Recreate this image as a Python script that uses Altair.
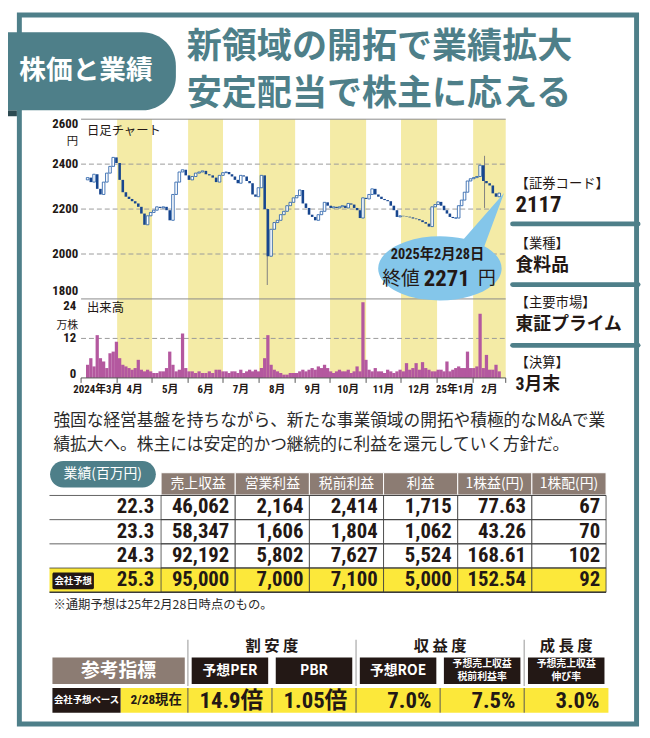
import altair as alt
import pandas as pd

# ====================== chart values ======================
month_labels = ["2024年3月", "4月", "5月", "6月", "7月", "8月", "9月", "10月",
                "11月", "12月", "25年1月", "2月"]
first_open = 2330
close_mar = [2340, 2320, 2355, 2290, 2265, 2320, 2360, 2390, 2430, 2405, 2330]
close_apr = [2275, 2255, 2245, 2235, 2225, 2210, 2180, 2130, 2170, 2185, 2195]
close_may = [2210, 2205, 2210, 2195, 2150, 2265, 2320, 2365, 2375, 2350, 2330]
close_jun = [2345, 2360, 2365, 2370, 2355, 2350, 2340, 2320, 2350, 2362]
close_jul = [2365, 2355, 2345, 2330, 2315, 2350, 2345, 2325, 2315, 2265, 2255, 2295]
close_aug = [2350, 2200, 1990, 2110, 2140, 2150, 2175, 2190, 2215, 2230, 2250]
close_sep = [2260, 2285, 2225, 2205, 2175, 2165, 2150, 2175, 2190, 2230, 2215]
close_oct = [2205, 2210, 2205, 2210, 2215, 2205, 2225, 2220, 2205, 2195, 2160, 2250]
close_nov = [2245, 2265, 2290, 2265, 2255, 2245, 2240, 2235, 2215, 2195, 2165]
close_dec = [2170, 2168, 2166, 2163, 2158, 2155, 2150, 2142, 2135, 2122, 2210]
close_jan = [2220, 2232, 2215, 2195, 2180, 2165, 2160, 2160, 2215, 2240, 2275, 2325]
close_feb = [2335, 2340, 2345, 2395, 2325, 2315, 2305, 2270, 2255, 2271]

vol_mar = [4, 6, 3.5, 13, 6, 5, 3, 7.5, 8, 11, 6]
vol_apr = [4, 3.5, 3, 2.5, 3, 5.5, 2.5, 2, 2.5, 2, 1.5]
vol_may = [1.5, 2, 2, 3, 8, 4, 2, 2.5, 13.5, 3, 2]
vol_jun = [2, 1.5, 2, 1.5, 1.5, 2, 1.5, 2.5, 2.5, 2]
vol_jul = [2, 1.5, 2, 2, 1.5, 2.5, 1.5, 2, 2.5, 2, 2.5, 2]
vol_aug = [3, 6, 13, 4, 2.5, 2, 1.5, 1, 1, 1.5, 1.5]
vol_sep = [1.5, 2, 2.5, 2, 2.5, 3, 2.5, 3.5, 3, 4, 3]
vol_oct = [2, 1.5, 2, 2.5, 2, 2, 2.5, 1.5, 2, 3.5, 2, 23]
vol_nov = [5.5, 2.5, 2, 3, 2, 2, 1.5, 2.5, 2, 1.5, 2]
vol_dec = [2.5, 2, 4.5, 2.5, 3, 4.5, 2.5, 4.8, 3, 2.5, 2]
vol_jan = [2, 2.5, 2.5, 2, 5, 2, 2.5, 3, 3.5, 3, 3, 8]
vol_feb = [3, 3, 3.5, 19.5, 3, 7, 2.5, 2.5, 4, 2]

wick_month = [5, 11]
wick_index = [2, 3]
wick_low = [1862, 2205]
wick_high = [2200, 2437]

price_ticks = [2600, 2400, 2200, 2000, 1800]
volume_ticks = [24, 12, 0]
close_date_label = "2025年2月28日"

section_tag = "株価と業績"
headline = ["新領域の開拓で業績拡大", "安定配当で株主に応える"]
info_labels = ["【証券コード】", "【業種】", "【主要市場】", "【決算】"]
info_values = ["2117", "食料品", "東証プライム", "3月末"]
summary = ["強固な経営基盤を持ちながら、新たな事業領域の開拓や積極的なM&Aで業",
           "績拡大へ。株主には安定的かつ継続的に利益を還元していく方針だ。"]

fiscal_years = ["22.3", "23.3", "24.3", "25.3"]
perf_columns = ["売上収益", "営業利益", "税前利益", "利益", "1株益(円)", "1株配(円)"]
revenue = [46062, 58347, 92192, 95000]
operating_profit = [2164, 1606, 5802, 7000]
pretax_profit = [2414, 1804, 7627, 7100]
net_profit = [1715, 1062, 5524, 5000]
eps = [77.63, 43.26, 168.61, 152.54]
dividend = [67, 70, 102, 92]
footnote = "※通期予想は25年2月28日時点のもの。"

indicator_groups = ["割 安 度", "収 益 度", "成 長 度"]
indicator_names = ["予想PER", "PBR", "予想ROE", "予想売上収益\n税前利益率", "予想売上収益\n伸び率"]
indicator_values = [14.9, 1.05, 7.0, 7.5, 3.0]
indicator_units = ["倍", "倍", "%", "%", "%"]
indicator_decimals = [1, 2, 1, 1, 1]

# ====================== styles ======================
TEAL = "#4e7f89"
TEAL_DARK = "#2c4a51"
BAND = "#f4eba6"
BLUE = "#1c57a5"
BLUE_DARK = "#17468f"
VOL = "#b4589f"
CALL = "#84c6ea"
BROWN = "#8c7c73"
YEL = "#fce83a"
INK = "#231815"
GRID = "#9a9a9a"
JP = "Noto Sans CJK JP"
NARROW = "Liberation Sans Narrow, Roboto Condensed, DejaVu Sans Condensed, Noto Sans CJK JP, sans-serif"

ONE = pd.DataFrame({"k": [0]})


def px(v):
    return v - 8


def rect(x1, y1, x2, y2, **kw):
    return alt.Chart(ONE).mark_rect(**kw).encode(
        x=alt.value(px(x1)), x2=alt.value(px(x2)), y=alt.value(px(y1)), y2=alt.value(px(y2)))


def hline(x1, x2, y, **kw):
    return alt.Chart(ONE).mark_rule(**kw).encode(
        x=alt.value(px(x1)), x2=alt.value(px(x2)), y=alt.value(px(y)))


def vline(x, y1, y2, **kw):
    return alt.Chart(ONE).mark_rule(**kw).encode(
        x=alt.value(px(x)), y=alt.value(px(y1)), y2=alt.value(px(y2)))


def label(txt, x, y, size, color=INK, font=JP, weight="normal", align="left", baseline="middle", **kw):
    return alt.Chart(ONE).mark_text(text=txt, fontSize=size, color=color, font=font,
                                    fontWeight=weight, align=align, baseline=baseline, **kw).encode(
        x=alt.value(px(x)), y=alt.value(px(y)))


# ====================== stock data frame ======================
closes = [close_mar, close_apr, close_may, close_jun, close_jul, close_aug,
          close_sep, close_oct, close_nov, close_dec, close_jan, close_feb]
vols = [vol_mar, vol_apr, vol_may, vol_jun, vol_jul, vol_aug,
        vol_sep, vol_oct, vol_nov, vol_dec, vol_jan, vol_feb]
starts = pd.date_range("2024-03-01", periods=13, freq="MS")
start_day = [(d - starts[0]).days for d in starts]
recs = []
prev = first_open
for m in range(12):
    a, b = start_day[m], start_day[m + 1]
    n = len(closes[m])
    for i in range(n):
        c = closes[m][i]
        recs.append({"m": m, "i": i, "day": a + (i + 0.5) * (b - a) / n,
                     "open": prev, "close": c, "vol": vols[m][i], "up": bool(c >= prev)})
        prev = c
cdf = pd.DataFrame(recs)
wdf = pd.DataFrame({"m": wick_month, "i": wick_index, "low": wick_low, "high": wick_high}).merge(
    cdf[["m", "i", "day"]], on=["m", "i"])
mdf = pd.DataFrame({"label": month_labels,
                    "start": start_day[:12], "end": start_day[1:],
                    "mid": [(start_day[k] + start_day[k + 1]) / 2 for k in range(12)]})
band_df = mdf.iloc[1::2]
bound_df = pd.DataFrame({"b": start_day})
last_df = cdf.tail(1)

xs = alt.Scale(domain=[0, 365], range=[px(82), px(512)], nice=False, zero=False)
ps = alt.Scale(domain=[1800, 2600], range=[px(298), px(116)], nice=False, zero=False)
vs = alt.Scale(domain=[0, 24], range=[px(378), px(298)], nice=False, zero=True)
XD = alt.X("day:Q", scale=xs, axis=None)

L = []
# month bands
L.append(alt.Chart(band_df).mark_rect(color=BAND).encode(
    x=alt.X("start:Q", scale=xs, axis=None), x2="end:Q",
    y=alt.value(px(116)), y2=alt.value(px(378))))
# grid lines
L.append(alt.Chart(pd.DataFrame({"p": price_ticks[1:-1]})).mark_rule(color=GRID, strokeDash=[5, 3], strokeWidth=1).encode(
    y=alt.Y("p:Q", scale=ps, axis=None), x=alt.value(px(82)), x2=alt.value(px(512))))
L.append(alt.Chart(pd.DataFrame({"v": [volume_ticks[1]]})).mark_rule(color=GRID, strokeDash=[5, 3], strokeWidth=1).encode(
    y=alt.Y("v:Q", scale=vs, axis=None), x=alt.value(px(82)), x2=alt.value(px(512))))
L.append(alt.Chart(pd.DataFrame({"p": [price_ticks[0], price_ticks[-1]]})).mark_rule(color="#8a8a8a", strokeWidth=1).encode(
    y=alt.Y("p:Q", scale=ps, axis=None), x=alt.value(px(82)), x2=alt.value(px(512))))
# volume bars
L.append(alt.Chart(cdf).mark_bar(size=3.3, color=VOL).encode(
    x=XD, y=alt.Y("vol:Q", scale=vs, axis=None), y2=alt.datum(0)))
# axis base + ticks
L.append(alt.Chart(pd.DataFrame({"v": [0]})).mark_rule(color="#555555", strokeWidth=1).encode(
    y=alt.Y("v:Q", scale=vs, axis=None), x=alt.value(px(82)), x2=alt.value(px(512))))
L.append(alt.Chart(bound_df).mark_rule(color="#555555", strokeWidth=1).encode(
    x=alt.X("b:Q", scale=xs, axis=None), y=alt.value(px(378)), y2=alt.value(px(383))))
# wicks
L.append(alt.Chart(wdf).mark_rule(color="#808080", strokeWidth=1).encode(
    x=XD, y=alt.Y("low:Q", scale=ps, axis=None), y2="high:Q"))
# candles
L.append(alt.Chart(cdf).transform_filter("!datum.up").mark_bar(size=2.6, color=BLUE_DARK).encode(
    x=XD, y=alt.Y("open:Q", scale=ps, axis=None), y2="close:Q"))
L.append(alt.Chart(cdf).transform_filter("datum.up").mark_bar(size=2.6, fill="white", stroke=BLUE, strokeWidth=0.8).encode(
    x=XD, y=alt.Y("open:Q", scale=ps, axis=None), y2="close:Q"))
# callout bubble anchored at the last close
bubble = ("M -2.04 1.22 A 1 0.52 0 0 1 -0.65 0.741 L 0 0 L -0.32 0.859 "
          "A 1 0.52 0 1 1 -2.04 1.22 Z")
L.append(alt.Chart(last_df).mark_point(shape=bubble, size=15625, filled=True, fill=CALL,
                                       opacity=1, strokeWidth=0).encode(
    x=XD, y=alt.Y("close:Q", scale=ps, axis=None)))
L.append(label(close_date_label, 443, 254, 14.5, font=NARROW, weight="bold", align="center"))
L.append(label("終値", 425, 278, 19, align="right"))
L.append(label(f"{closes[-1][-1]}", 429, 278, 23, font=NARROW, weight="bold", align="left"))
L.append(label("円", 484, 278, 18, align="left"))

# axis labels
AX = dict(font=NARROW, fontWeight="bold", fontSize=13, color=INK, align="right")
L.append(alt.Chart(pd.DataFrame({"p": [price_ticks[0]]})).mark_text(baseline="top", dy=-1, **AX).encode(
    y=alt.Y("p:Q", scale=ps, axis=None), x=alt.value(px(79)), text="p:Q"))
L.append(alt.Chart(pd.DataFrame({"p": price_ticks[1:-1]})).mark_text(baseline="middle", **AX).encode(
    y=alt.Y("p:Q", scale=ps, axis=None), x=alt.value(px(79)), text="p:Q"))
L.append(alt.Chart(pd.DataFrame({"p": [price_ticks[-1]]})).mark_text(baseline="alphabetic", dy=-4, **AX).encode(
    y=alt.Y("p:Q", scale=ps, axis=None), x=alt.value(px(79)), text="p:Q"))
L.append(alt.Chart(pd.DataFrame({"v": [volume_ticks[0]]})).mark_text(baseline="top", dy=1, **AX).encode(
    y=alt.Y("v:Q", scale=vs, axis=None), x=alt.value(px(77)), text="v:Q"))
L.append(alt.Chart(pd.DataFrame({"v": [volume_ticks[1]]})).mark_text(baseline="middle", **AX).encode(
    y=alt.Y("v:Q", scale=vs, axis=None), x=alt.value(px(77)), text="v:Q"))
L.append(alt.Chart(pd.DataFrame({"v": [volume_ticks[2]]})).mark_text(baseline="alphabetic", **AX).encode(
    y=alt.Y("v:Q", scale=vs, axis=None), x=alt.value(px(77)), text="v:Q"))
L.append(label("円", 79, 139, 11.5, align="right"))
L.append(label("万株", 79, 325, 11, align="right"))
L.append(label("日足チャート", 88, 128, 12.5))
L.append(label("出来高", 88, 307, 12.5))
# month labels
ML = dict(font=NARROW, fontWeight="bold", fontSize=11, color=INK)
L.append(alt.Chart(mdf.iloc[:1]).mark_text(align="left", dx=-8, **ML).encode(
    x=alt.X("start:Q", scale=xs, axis=None), y=alt.value(px(390)), text="label:N"))
L.append(alt.Chart(mdf.iloc[1:]).mark_text(align="center", **ML).encode(
    x=alt.X("mid:Q", scale=xs, axis=None), y=alt.value(px(390)), text="label:N"))

# ====================== side panel ======================
info_df = pd.DataFrame({"k": list(range(4)), "lab": info_labels, "val": info_values})
lab_sc = alt.Scale(type="point", domain=list(range(4)), range=[px(182), px(363)], padding=0)
sep_sc = alt.Scale(type="point", domain=list(range(3)), range=[px(222), px(345)], padding=0)
L.append(alt.Chart(pd.DataFrame({"k": list(range(3))})).mark_rule(color=TEAL, strokeWidth=5, strokeCap="round").encode(
    y=alt.Y("k:O", scale=sep_sc, axis=None), x=alt.value(px(519)), x2=alt.value(px(646))))
L.append(alt.Chart(info_df).mark_text(align="left", font=JP, fontSize=13.5, color=INK).encode(
    y=alt.Y("k:O", scale=lab_sc, axis=None), x=alt.value(px(522)), text="lab:N"))
L.append(alt.Chart(info_df.iloc[:1]).mark_text(align="left", dy=21, font=NARROW, fontWeight="bold", fontSize=23, color=INK).encode(
    y=alt.Y("k:O", scale=lab_sc, axis=None), x=alt.value(px(522)), text="val:N"))
L.append(alt.Chart(info_df.iloc[1:]).mark_text(align="left", dy=22, font=NARROW, fontWeight="bold", fontSize=18, color=INK).encode(
    y=alt.Y("k:O", scale=lab_sc, axis=None), x=alt.value(px(522)), text="val:N"))

# ====================== header ======================
L.append(label(headline[0], 189, 43.5, 35.5, color=TEAL, weight="bold"))
L.append(label(headline[1], 189, 90.5, 35.5, color=TEAL, weight="bold"))

# ====================== summary ======================
L.append(label(summary[0], 54, 422, 16.9, color="#2b2b2b"))
L.append(label(summary[1], 54, 446, 16.9, color="#2b2b2b"))

# ====================== performance table ======================
t1_left, t1_right, t1_top, t1_bottom = 163, 613.6, 497, 595
col_sc = alt.Scale(type="band", domain=perf_columns, range=[px(t1_left), px(t1_right)], paddingInner=0, paddingOuter=0)
row_sc = alt.Scale(type="band", domain=fiscal_years, range=[px(t1_top), px(t1_bottom)], paddingInner=0, paddingOuter=0)
col_band = (t1_right - t1_left) / len(perf_columns)
cells = []
for k, yr in enumerate(fiscal_years):
    vals = [f"{revenue[k]:,}", f"{operating_profit[k]:,}", f"{pretax_profit[k]:,}",
            f"{net_profit[k]:,}", f"{eps[k]:.2f}", f"{dividend[k]}"]
    for c, v in zip(perf_columns, vals):
        cells.append({"year": yr, "col": c, "txt": v})
cell_df = pd.DataFrame(cells)
year_df = pd.DataFrame({"year": fiscal_years})
hdr_df = pd.DataFrame({"col": perf_columns})
is_fc = alt.datum.year == fiscal_years[-1]

L.append(rect(50.6, 462, 157.7, 489, color=TEAL, cornerRadius=13.5))
L.append(label("業績(百万円)", 104, 475.5, 14, color="white", align="center"))
L.append(alt.Chart(hdr_df).mark_rect(fill=BROWN, stroke="white", strokeWidth=1).encode(
    x=alt.X("col:N", scale=col_sc, axis=None), y=alt.value(px(474)), y2=alt.value(px(496.5))))
L.append(alt.Chart(hdr_df).mark_text(color="white", font=JP, fontSize=14).encode(
    x=alt.X("col:N", scale=col_sc, axis=None), y=alt.value(px(485.5)), text="col:N"))
L.append(alt.Chart(year_df).mark_rect(strokeWidth=0).encode(
    x=alt.value(px(50)), x2=alt.value(px(163)), y=alt.Y("year:N", scale=row_sc, axis=None),
    fill=alt.condition(is_fc, alt.value(YEL), alt.value("white"))))
L.append(alt.Chart(cell_df).mark_rect(stroke="#3a3a3a", strokeWidth=0.8).encode(
    x=alt.X("col:N", scale=col_sc, axis=None), y=alt.Y("year:N", scale=row_sc, axis=None),
    fill=alt.condition(is_fc, alt.value(YEL), alt.value("white"))))
row_h = (t1_bottom - t1_top) / len(fiscal_years)
for k in range(len(fiscal_years) + 1):
    L.append(hline(50, t1_right, t1_top + k * row_h, color="#3a3a3a",
                   strokeWidth=1.6 if k == len(fiscal_years) else 0.8))
L.append(alt.Chart(year_df).mark_text(align="right", font=NARROW, fontWeight="bold", fontSize=21, color=INK).encode(
    x=alt.value(px(156)), y=alt.Y("year:N", scale=row_sc, axis=None), text="year:N"))
L.append(alt.Chart(cell_df).mark_text(align="right", dx=col_band / 2 - 6, font=NARROW, fontWeight="bold",
                                      fontSize=21, color=INK).encode(
    x=alt.X("col:N", scale=col_sc, axis=None), y=alt.Y("year:N", scale=row_sc, axis=None), text="txt:N"))
L.append(rect(53, 575, 95, 592, color=INK, cornerRadius=1.5))
L.append(label("会社予想", 74, 583.5, 9.5, color="white", weight="bold", align="center"))
L.append(label(footnote, 54, 608, 12.5, color="#2b2b2b"))

# ====================== indicator table ======================
ind_left, ind_right, ind_pad = 194, 612, 0.09
ind_sc = alt.Scale(type="band", domain=indicator_names, range=[px(ind_left), px(ind_right)],
                   paddingInner=ind_pad, paddingOuter=0)
step = (ind_right - ind_left) / (len(indicator_names) - ind_pad)
bandw = step * (1 - ind_pad)
starts_i = [ind_left + k * step for k in range(len(indicator_names))]
mids = [s - (step - bandw) / 2 for s in starts_i]
ind_df = pd.DataFrame({"name": indicator_names,
                       "txt": [f"{v:.{d}f}{u}" for v, d, u in zip(indicator_values, indicator_decimals, indicator_units)]})
ind_df["top"] = [n.split("\n")[0] for n in indicator_names]
ind_df["bottom"] = [n.split("\n")[1] if "\n" in n else "" for n in indicator_names]
one_line = ind_df[ind_df["bottom"] == ""]
two_line = ind_df[ind_df["bottom"] != ""]

for k in (0, 2, 4):
    L.append(vline(mids[k], 643, 690, color="#a8a8a8", strokeWidth=1.2))
g_centers = [(starts_i[0] + starts_i[1] + bandw) / 2, (starts_i[2] + starts_i[3] + bandw) / 2,
             starts_i[4] + bandw / 2]
for g, cx in zip(indicator_groups, g_centers):
    L.append(label(g, cx, 650, 15.5, weight="bold", align="center"))
L.append(rect(53, 661, 187, 688, color=BROWN))
L.append(label("参考指標", 120, 674.5, 19, color="white", weight="bold", align="center"))
L.append(alt.Chart(ind_df).mark_rect(fill=INK).encode(
    x=alt.X("name:N", scale=ind_sc, axis=None), y=alt.value(px(661)), y2=alt.value(px(688))))
L.append(alt.Chart(one_line).mark_text(color="white", font=JP, fontWeight="bold", fontSize=14).encode(
    x=alt.X("name:N", scale=ind_sc, axis=None), y=alt.value(px(674.5)), text="top:N"))
L.append(alt.Chart(two_line).mark_text(color="white", font=JP, fontWeight="bold", fontSize=10).encode(
    x=alt.X("name:N", scale=ind_sc, axis=None), y=alt.value(px(668)), text="top:N"))
L.append(alt.Chart(two_line).mark_text(color="white", font=JP, fontWeight="bold", fontSize=10).encode(
    x=alt.X("name:N", scale=ind_sc, axis=None), y=alt.value(px(681)), text="bottom:N"))
L.append(rect(122, 692, 616, 717, color=YEL))
L.append(rect(53, 692, 122, 717, color=INK))
L.append(label("会社予想ベース", 87.5, 704.5, 9.5, color="white", weight="bold", align="center"))
L.append(label("2/28現在", 158, 704.5, 13.5, font=NARROW, weight="bold", align="center"))
for s in mids:
    L.append(vline(s, 692, 717, color="#555555", strokeWidth=1))
L.append(alt.Chart(ind_df).mark_text(align="right", dx=bandw / 2 - 5, font=NARROW, fontWeight="bold",
                                     fontSize=23, color=INK).encode(
    x=alt.X("name:N", scale=ind_sc, axis=None), y=alt.value(px(705)), text="txt:N"))

# ====================== frame ======================
L.append(alt.Chart(ONE).mark_rect(filled=False, stroke=TEAL, strokeWidth=5).encode(
    x=alt.value(px(19.5)), x2=alt.value(px(644.5)), y=alt.value(2.5), y2=alt.value(px(728.5))))
# section tag drawn over the frame
L.append(rect(0, 107, 17, 113, color=TEAL_DARK))
L.append(rect(0, 28, 178, 107, color=TEAL, cornerRadiusTopRight=34, cornerRadiusBottomRight=34))
L.append(label(section_tag, 87, 67, 27, color="white", weight="bold", align="center"))

chart = alt.layer(*L).resolve_scale(x="independent", y="independent").properties(
    width=642, height=730, padding=0, background="white",
    autosize=alt.AutoSizeParams(type="none")
).configure_view(strokeWidth=0)

chart.save("out.html", embed_options={"renderer": "svg", "actions": False})
